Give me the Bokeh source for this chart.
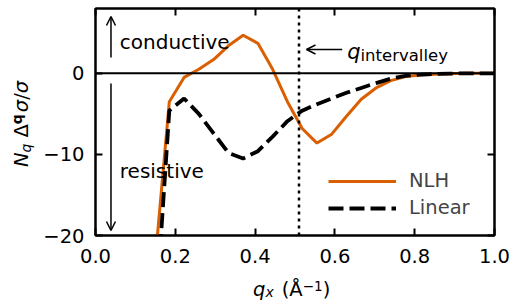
from bokeh.plotting import figure
from bokeh.layouts import row, column
from bokeh.models import (Range1d, LinearAxis, FixedTicker, Span, Label, Arrow,
                          OpenHead, NumeralTickFormatter, Div)
from bokeh.embed import file_html
from bokeh.resources import INLINE

# ---------------- data ----------------
q = [0.148, 0.185, 0.222, 0.259, 0.296, 0.333, 0.370, 0.407, 0.444, 0.481,
     0.518, 0.555, 0.592, 0.629, 0.666, 0.703, 0.740, 0.777, 0.814, 0.851,
     0.888, 0.925, 0.962, 0.999]
nlh = [-24.0, -3.5, -0.5, 0.5, 1.7, 3.4, 4.7, 3.7, 0.5, -3.5,
       -6.8, -8.6, -7.5, -5.3, -3.2, -1.8, -0.9, -0.4, -0.2, -0.1,
       -0.05, 0.0, 0.0, 0.0]
linear = [-32.0, -4.6, -3.1, -5.0, -7.4, -9.8, -10.5, -9.6, -7.8, -5.9,
          -4.6, -3.8, -3.1, -2.4, -1.8, -1.2, -0.65, -0.3, -0.15, -0.07,
          -0.03, 0.0, 0.0, 0.0]
q_intervalley = 0.51
x_ticks = [0.0, 0.2, 0.4, 0.6, 0.8, 1.0]
y_ticks = [-20, -10, 0]
y_tick_labels = ["\u221220", "\u221210", "0"]
series_names = ["NLH", "Linear"]

FONT = "DejaVu Sans"
FS = "19.5px"
ORANGE = "#d95f02"

p = figure(width=474, height=272, output_backend="svg", toolbar_location=None,
           x_range=Range1d(0, 1), y_range=Range1d(-20, 8),
           min_border_left=55, min_border_right=20, min_border_top=8,
           min_border_bottom=37, margin=0)
p.xgrid.visible = False
p.ygrid.visible = False
p.outline_line_color = "black"
p.outline_line_width = 2
p.background_fill_color = "white"
p.border_fill_color = "white"

for ax in (p.xaxis[0], p.yaxis[0]):
    ax.major_tick_in = 7
    ax.major_tick_out = 0
    ax.minor_tick_in = 0
    ax.minor_tick_out = 0
    ax.major_tick_line_width = 2
    ax.axis_line_width = 2
    ax.major_label_text_font = FONT
    ax.major_label_text_font_size = FS
    ax.major_label_text_color = "black"
p.xaxis[0].major_label_standoff = 13
p.yaxis[0].major_label_standoff = 11

p.xaxis[0].ticker = FixedTicker(ticks=x_ticks)
p.xaxis[0].formatter = NumeralTickFormatter(format="0.0")
p.yaxis[0].ticker = FixedTicker(ticks=y_ticks)
p.yaxis[0].major_label_overrides = {t: s for t, s in zip(y_ticks, y_tick_labels)}

for loc, ticks in (("above", x_ticks), ("right", y_ticks)):
    ax = LinearAxis(ticker=FixedTicker(ticks=ticks))
    ax.major_label_overrides = {t: "" for t in ticks}
    ax.major_label_standoff = 0
    ax.major_tick_in = 7
    ax.major_tick_out = 0
    ax.minor_tick_in = 0
    ax.minor_tick_out = 0
    ax.major_tick_line_width = 2
    ax.axis_line_width = 2
    p.add_layout(ax, loc)

# zero line and q_intervalley marker
p.add_layout(Span(location=0, dimension="width", line_color="black", line_width=2))
p.add_layout(Span(location=q_intervalley, dimension="height", line_color="black",
                  line_width=2.5, line_dash="3 4"))

# curves
p.line(q, nlh, line_color=ORANGE, line_width=3, legend_label=series_names[0])
p.line(q, linear, line_color="black", line_width=3.8, line_dash="15 6",
       legend_label=series_names[1])

lg = p.legend[0]
lg.location = (225, 8)
lg.margin = 0
lg.padding = 8
lg.border_line_alpha = 0
lg.background_fill_alpha = 0
lg.label_text_font = FONT
lg.label_text_font_size = FS
lg.glyph_width = 68
lg.glyph_height = 20
lg.label_standoff = 13
lg.spacing = 4

# annotations inside the frame
def lab(x, y, text, size=FS, style="normal"):
    p.add_layout(Label(x=x, y=y, text=text, text_font=FONT, text_font_size=size,
                       text_font_style=style, text_align="left",
                       text_baseline="alphabetic", text_color="black"))

def arrow(x0, y0, x1, y1):
    p.add_layout(Arrow(end=OpenHead(size=9, line_width=1.5, line_color="black"),
                       x_start=x0, y_start=y0, x_end=x1, y_end=y1,
                       line_width=1.5, line_color="black"))

lab(0.0609, 3.84, "conductive", size="20px")
lab(0.0609, -12.04, "resistive", size="20px")
arrow(0.0388, 1.96, 0.0388, 7.01)
arrow(0.0388, -1.25, 0.0388, -19.38)
arrow(0.6183, 2.94, 0.5288, 2.94)
lab(0.6308, 2.61, "q", size="21px", style="italic")
lab(0.6642, 2.26, "intervalley", size="16.5px")

# axis titles as real HTML text (rich formatting)
BASE = "font-family:'DejaVu Sans';font-size:19.5px;line-height:20px;color:black;white-space:nowrap;"
xlabel_html = (
    f'<div style="padding-left:213px;padding-top:8px;{BASE}">'
    '<i>q</i>'
    '<span style="font-size:14px;font-style:italic;position:relative;top:1px;">x</span>'
    '<span style="margin-left:8px;">(\u00c5</span>'
    '<span style="font-size:13.6px;position:relative;top:-5px;">\u22121</span>)'
    '</div>'
)
ylabel_html = (
    '<div style="padding-top:167px;padding-left:11.5px;">'
    f'<div style="width:200px;transform:rotate(-90deg);transform-origin:0 0;{BASE}">'
    '<i>N</i>'
    '<span style="font-size:14px;font-style:italic;position:relative;top:2.5px;">q</span>'
    '<span style="margin-left:6px;">\u0394</span>'
    '<span style="font-size:14px;font-weight:bold;position:relative;top:-6px;">q</span>'
    '<span style="margin-left:2px;"><i>\u03c3</i>/<i>\u03c3</i></span>'
    '</div></div>'
)
xdiv = Div(text=xlabel_html, width=474, height=31, margin=0)
ydiv = Div(text=ylabel_html, width=40, height=303, margin=0)

layout = row(ydiv, column(p, xdiv, spacing=0, margin=0), spacing=0, margin=0)

open("out.html", "w").write(file_html(layout, INLINE))
